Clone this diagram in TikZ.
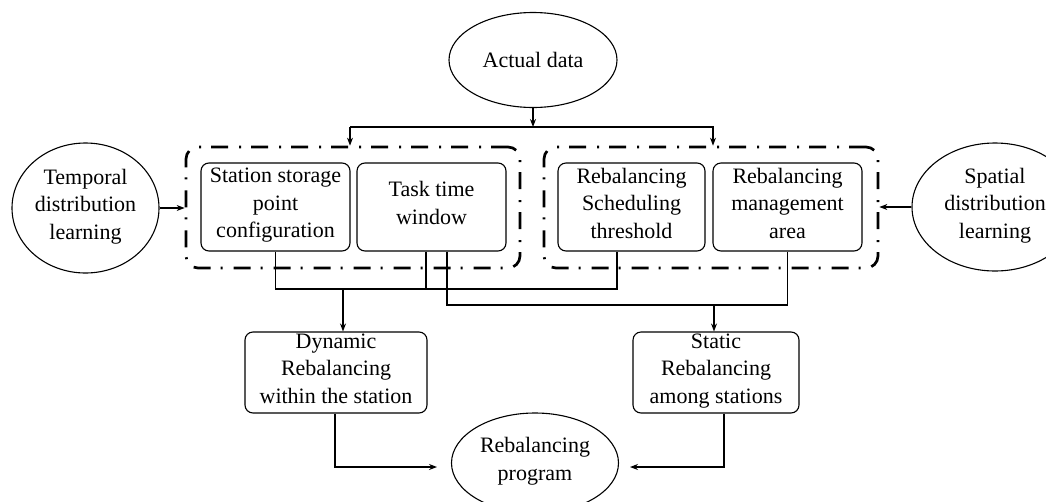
\documentclass[tikz,border=0pt]{standalone}
\usepackage{fontspec}
\setmainfont{Liberation Serif}
\usetikzlibrary{shapes.geometric,arrows.meta,calc}
\begin{document}
\begin{tikzpicture}[x=1pt,y=-1pt,
  every node/.style={font=\fontsize{22}{27.5}\selectfont, align=center, inner sep=0pt,
    execute at begin node={\rule{0pt}{24pt}}, execute at end node=\strut},
  box/.style={draw, rounded corners=8pt, line width=1.1pt, minimum height=88pt},
  oval/.style={draw, ellipse, line width=1.1pt},
  grp/.style={draw, rounded corners=12pt, line width=2.7pt, dash pattern=on 17pt off 10pt on 2pt off 11pt, minimum width=334pt, minimum height=121pt},
  conn/.style={line width=1.1pt},
  arr/.style={line width=1.1pt, -{Stealth[length=8pt,width=6pt]}}]
\useasboundingbox (0,0) rectangle (1046,501);
\clip (0,0) rectangle (1046,501);

% ellipses
\node[oval, minimum width=168pt, minimum height=95pt] (ad) at (533,60) {Actual data};
\node[oval, minimum width=147pt, minimum height=130pt] (tl) at (85.5,208) {Temporal\\distribution\\learning};
\node[oval, minimum width=166pt, minimum height=128pt] (sl) at (995,207) {Spatial\\distribution\\learning};
\node[oval, minimum width=167pt, minimum height=100pt] (rp) at (535,463) {Rebalancing\\program};

% groups
\node[grp] (g1) at (353,207.5) {};
\node[grp] (g2) at (711,207.5) {};

% boxes
\node[box, minimum width=149pt] (s1) at (275.5,207) {Station storage\\point\\configuration};
\node[box, minimum width=149pt] (s2) at (431.5,207) {Task time\\window};
\node[box, minimum width=147pt] (s3) at (631.5,207) {Rebalancing\\Scheduling\\threshold};
\node[box, minimum width=149pt] (s4) at (787.5,207) {Rebalancing\\management\\area};
\node[box, minimum width=182pt, minimum height=81pt] (dyn) at (336,372.5) {Dynamic\\Rebalancing\\within the station};
\node[box, minimum width=166pt, minimum height=81pt] (sta) at (716,372.5) {Static\\Rebalancing\\among stations};

% top connectors
\coordinate (busL) at (350,127);
\coordinate (busR) at (713,127);
\draw[arr] (ad.south) -- (ad.south |- busL);
\draw[arr] (busL) -- (busL |- g1.north);
\draw[arr] (busL) -- (busR) -- (busR |- g2.north);
\draw[arr] (tl.east) -- (g1.west |- tl.east);
\draw[arr] (sl.west) -- (g2.east |- sl.west);

% lower connectors
\coordinate (h1) at (0,289);
\coordinate (h2) at (0,305);
\coordinate (a1) at ([xshift=-14.5pt]s3.south);
\coordinate (a2) at ([xshift=-5.5pt]s2.south);
\coordinate (a3) at ([xshift=7pt]dyn.north);
\coordinate (a4) at ([xshift=15.5pt]s2.south);
\coordinate (a5) at ([xshift=-2pt]sta.north);
\draw[conn] (s1.south) -- (s1.south |- h1) -- (a1 |- h1) -- (a1);
\draw[conn] (a2) -- (a2 |- h1);
\draw[arr] (a3 |- h1) -- (a3);
\draw[conn] (a4) -- (a4 |- h2) -- (s4.south |- h2) -- (s4.south);
\draw[arr] (a5 |- h2) -- (a5);

% bottom connectors
\coordinate (b1) at ([xshift=-1pt]dyn.south);
\coordinate (b2) at ([xshift=8pt]sta.south);
\coordinate (tipL) at (437,467);
\coordinate (tipR) at (630,467);
\draw[arr] (b1) |- (tipL);
\draw[arr] (b2) |- (tipR);
\end{tikzpicture}
\end{document}
